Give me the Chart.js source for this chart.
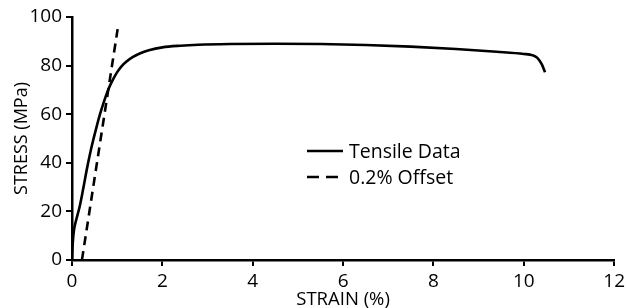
<!DOCTYPE html>
<html>
<head>
<meta charset="utf-8">
<script src="https://cdn.jsdelivr.net/npm/chart.js@4/dist/chart.umd.min.js"></script>
<style>
  html, body { margin: 0; padding: 0; background: #fff; }
  #wrap { width: 629px; height: 308px; }
</style>
</head>
<body>
<div id="wrap"><canvas id="graphic"></canvas></div>
<script>
var strain = [0, 0.01, 0.03, 0.05, 0.1, 0.17, 0.25, 0.33, 0.42, 0.54, 0.62, 0.7, 0.8, 0.9, 1.0, 1.1, 1.2, 1.35, 1.5, 1.7, 2.0, 2.4, 2.8, 3.5, 4.5, 5.5, 6.5, 7.5, 8.5, 9.4, 10.0, 10.2, 10.3, 10.4, 10.47];
var stress = [0, 5, 10, 13, 17, 22, 29.5, 37.5, 45.5, 54.5, 60, 64.8, 70, 74, 77.3, 79.8, 81.6, 83.6, 85, 86.3, 87.5, 88.2, 88.6, 88.9, 89, 88.9, 88.5, 87.8, 86.8, 85.7, 84.8, 84.2, 83.2, 80.5, 77.3];

var offsetStrain = [0.22, 1.01];
var offsetStress = [0, 95];

var xTicks = [0, 2, 4, 6, 8, 10, 12];
var yLabels = [0, 20, 40, 60, 80, 100];

function toPoints(xs, ys) {
    return xs.map(function (x, i) { return { x: x, y: ys[i] }; });
}

var font = "'Open Sans', 'DejaVu Sans', sans-serif";

// legend sits inside the plot, drawn by hand
var legendInside = {
    id: 'legendInside',
    afterDraw: function (chart) {
        var c = chart.ctx;
        c.save();
        c.strokeStyle = '#000';
        c.lineWidth = 2.5;
        c.beginPath();
        c.moveTo(307, 151);
        c.lineTo(343, 151);
        c.stroke();
        c.setLineDash([12, 7]);
        c.beginPath();
        c.moveTo(307, 177);
        c.lineTo(343, 177);
        c.stroke();
        c.setLineDash([]);
        c.fillStyle = '#000';
        c.font = '19.5px ' + font;
        c.textBaseline = 'alphabetic';
        c.fillText(chart.data.datasets[0].label, 349, 158);
        c.fillText(chart.data.datasets[1].label, 349, 183.5);
        c.restore();
    }
};

var ctx = document.getElementById('graphic').getContext('2d');

var graphic = new Chart(ctx, {
    type: 'scatter',
    data: {
        datasets: [{
            label: 'Tensile Data',
            data: toPoints(strain, stress),
            showLine: true,
            borderColor: '#000',
            borderWidth: 2.6,
            pointRadius: 0,
            cubicInterpolationMode: 'monotone'
        }, {
            label: '0.2% Offset',
            data: toPoints(offsetStrain, offsetStress),
            showLine: true,
            borderColor: '#000',
            borderWidth: 2.6,
            borderDash: [9, 6],
            pointRadius: 0
        }]
    },
    options: {
        responsive: true,
        maintainAspectRatio: false,
        animation: false,
        layout: { padding: { top: 17, right: 12, left: 11, bottom: 0 } },
        plugins: {
            legend: { display: false },
            tooltip: { enabled: false }
        },
        scales: {
            x: {
                type: 'linear',
                min: 0,
                max: 12,
                afterBuildTicks: function (scale) {
                    scale.ticks = xTicks.map(function (v) { return { value: v }; });
                },
                afterFit: function (scale) { scale.height = 48; },
                border: { color: '#000', width: 2.5 },
                grid: { drawOnChartArea: false, color: '#000', lineWidth: 2, tickLength: 6 },
                ticks: { color: '#000', font: { family: font, size: 19 }, padding: 4, maxRotation: 0 },
                title: { display: true, text: 'STRAIN (%)', color: '#000', font: { family: font, size: 18.5 }, padding: { top: -4, bottom: -3 } }
            },
            y: {
                min: 0,
                max: 100,
                ticks: {
                    stepSize: 10,
                    color: '#000',
                    font: { family: font, size: 19 },
                    padding: 4,
                    callback: function (v) { return yLabels.indexOf(v) >= 0 ? String(v) : ''; }
                },
                afterFit: function (scale) { scale.width = 61; },
                border: { color: '#000', width: 2.5 },
                grid: { drawOnChartArea: false, color: '#000', lineWidth: 2, tickLength: 6 },
                title: { display: true, text: 'STRESS (MPa)', color: '#000', font: { family: font, size: 18 }, padding: { top: 0, bottom: 0 } }
            }
        }
    },
    plugins: [legendInside]
});
</script>
</body>
</html>
